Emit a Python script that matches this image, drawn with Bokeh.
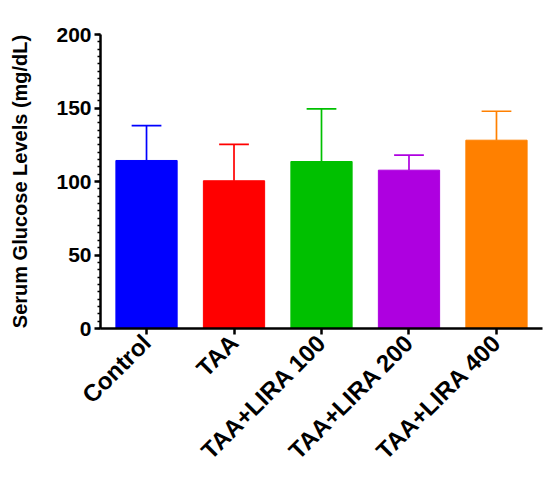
import math
from bokeh.plotting import figure
from bokeh.models import FixedTicker, ColumnDataSource, Range1d
from bokeh.embed import file_html
from bokeh.resources import INLINE

groups = ["Control", "TAA", "TAA+LIRA 100", "TAA+LIRA 200", "TAA+LIRA 400"]
means = [114.3, 100.5, 113.6, 107.7, 128.1]
sds = [23.7, 24.7, 35.8, 10.3, 19.7]
colors = ["#0000FF", "#FF0000", "#00C000", "#AE00E0", "#FF8000"]

xs = list(range(1, len(groups) + 1))
uppers = [m + s for m, s in zip(means, sds)]
cap_half = 0.17
src = ColumnDataSource(dict(
    x=xs, top=means, upper=uppers, color=colors,
    cx0=[x - cap_half for x in xs], cx1=[x + cap_half for x in xs],
))

FONT = "Liberation Sans"

p = figure(width=546, height=482, output_backend="svg", toolbar_location=None,
           x_range=Range1d(0.474, 5.526), y_range=Range1d(0, 200),
           min_border_left=100, min_border_top=34, min_border_bottom=154,
           min_border_right=4)
p.outline_line_color = None
p.grid.visible = False
p.background_fill_color = "white"
p.border_fill_color = "white"

p.vbar(x="x", top="top", bottom=0, width=0.7, fill_color="color",
       line_color="color", source=src)
p.segment(x0="x", y0="top", x1="x", y1="upper", line_color="color",
          line_width=1.7, source=src)
p.segment(x0="cx0", y0="upper", x1="cx1", y1="upper", line_color="color",
          line_width=1.7, source=src)

# y axis
ya = p.yaxis[0]
ya.ticker = FixedTicker(ticks=[0, 50, 100, 150, 200],
                        minor_ticks=list(range(0, 201, 5)))
ya.axis_line_width = 2.5
ya.major_tick_line_width = 2.5
ya.minor_tick_line_width = 1.5
ya.major_tick_out = 6
ya.major_tick_in = 0
ya.minor_tick_out = 3
ya.minor_tick_in = 0
ya.major_label_text_font = FONT
ya.major_label_text_font_style = "bold"
ya.major_label_text_font_size = "21px"
ya.major_label_text_color = "black"
ya.major_label_standoff = 3
ya.axis_label = "Serum Glucose Levels (mg/dL)"
ya.axis_label_text_font = FONT
ya.axis_label_text_font_style = "bold"
ya.axis_label_text_font_size = "20px"
ya.axis_label_text_color = "black"
ya.axis_label_standoff = 22

# x axis
xa = p.xaxis[0]
xa.ticker = FixedTicker(ticks=xs, minor_ticks=[])
xa.major_label_overrides = {x: g for x, g in zip(xs, groups)}
xa.major_label_orientation = math.pi / 4
xa.axis_line_width = 2.5
xa.major_tick_line_width = 2.5
xa.major_tick_out = 6
xa.major_tick_in = 0
xa.minor_tick_out = 0
xa.major_label_text_font = FONT
xa.major_label_text_font_style = "bold"
xa.major_label_text_font_size = "24px"
xa.major_label_text_color = "black"
xa.major_label_standoff = 4

open("out.html", "w").write(file_html(p, INLINE))
